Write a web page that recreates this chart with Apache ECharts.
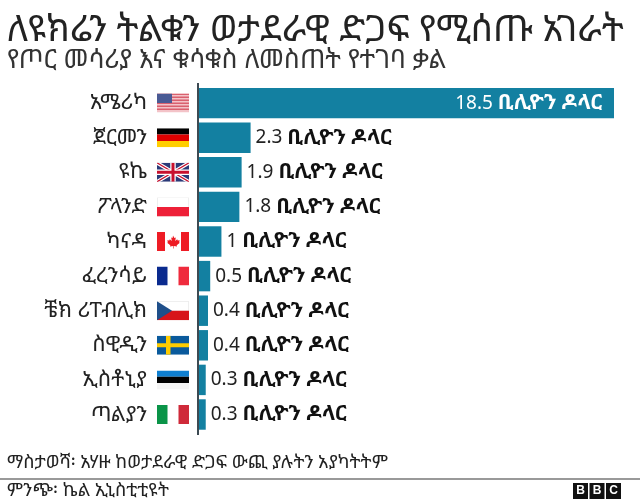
<!DOCTYPE html>
<html><head><meta charset="utf-8">
<style>html,body{margin:0;padding:0;background:#fff}#c{width:640px;height:501px}</style>
<script src="https://cdn.jsdelivr.net/npm/echarts@6/dist/echarts.min.js"></script>
</head><body><div id="c"></div>
<script>
const FONT = '"Noto Sans Ethiopic","Noto Sans","DejaVu Sans","Liberation Sans",sans-serif';
const titleText = 'ለዩክሬን ትልቁን ወታደራዊ ድጋፍ የሚሰጡ አገራት';
const subtitleText = 'የጦር መሳሪያ እና ቁሳቁስ ለመስጠት የተገባ ቃል';
const noteText = 'ማስታወሻ፡ አሃዙ ከወታደራዊ ድጋፍ ውጪ ያሉትን አያካትትም';
const sourceText = 'ምንጭ፡ ኬል ኢኒስቲቲዩት';
const unitText = 'ቢሊዮን ዶላር';
const categories = ['አሜሪካ','ጀርመን','ዩኬ','ፖላንድ','ካናዳ','ፈረንሳይ','ቼክ ሪፐብሊክ','ስዊዲን','ኢስቶኒያ','ጣልያን'];
const flagKeys = ['us','de','uk','pl','ca','fr','cz','se','ee','it'];
const values = [18.5,2.3,1.9,1.8,1,0.5,0.4,0.4,0.3,0.3];

function svg(inner){return 'data:image/svg+xml;charset=utf-8,'+encodeURIComponent('<svg xmlns="http://www.w3.org/2000/svg" width="64" height="38" viewBox="0 0 32 19">'+inner+'</svg>');}
const flags = {
 us: svg('<rect width="32" height="19" fill="#f3c3c8"/>'+[0,3,6,9,12,15].map(y=>'<rect y="'+y+'" width="32" height="1.5" fill="#d9606e"/>').join('')+'<rect width="15" height="9.5" fill="#4a5a94"/>'),
 de: svg('<rect width="32" height="6.3" fill="#000"/><rect y="6.3" width="32" height="6.4" fill="#dd0000"/><rect y="12.7" width="32" height="6.3" fill="#ffce00"/>'),
 uk: svg('<rect width="32" height="19" fill="#2b3a78"/><path d="M0 0L32 19M32 0L0 19" stroke="#fff" stroke-width="3.6"/><path d="M0 0L32 19M32 0L0 19" stroke="#c8102e" stroke-width="1.2"/><path d="M16 0V19M0 9.5H32" stroke="#fff" stroke-width="5.5"/><path d="M16 0V19M0 9.5H32" stroke="#c8102e" stroke-width="3"/>'),
 pl: svg('<rect width="32" height="19" fill="#ddd"/><rect x=".5" y=".5" width="31" height="9" fill="#fff"/><rect y="9.5" width="32" height="9.5" fill="#ee2038"/>'),
 ca: svg('<rect width="32" height="19" fill="#fff"/><rect width="8" height="19" fill="#ee1c25"/><rect x="24" width="8" height="19" fill="#ee1c25"/><path d="M16 3.5l1.4 2.6 1.4-.6-.6 3.6 2-1.8.5 1.2 2-.3-.6 2.2.8.4-3.2 2.5.3 1.2-3.2-.4v2.4h-.6v-2.4l-3.2.4.3-1.2-3.2-2.5.8-.4-.6-2.2 2 .3.5-1.2 2 1.8-.6-3.6 1.4.6z" fill="#ee1c25"/>'),
 fr: svg('<rect width="32" height="19" fill="#fff"/><rect width="10.5" height="19" fill="#0a2a8e"/><rect x="21.5" width="10.5" height="19" fill="#ef2b3d"/>'),
 cz: svg('<rect width="32" height="19" fill="#ddd"/><rect x=".5" y=".5" width="31" height="9" fill="#fff"/><rect y="9.5" width="32" height="9.5" fill="#d7141a"/><path d="M0 0L15 9.5L0 19z" fill="#1f4f8a"/>'),
 se: svg('<rect width="32" height="19" fill="#0a5a9c"/><rect x="9" width="4.5" height="19" fill="#fecc00"/><rect y="7.5" width="32" height="4" fill="#fecc00"/>'),
 ee: svg('<rect width="32" height="6.3" fill="#0f7fd0"/><rect y="6.3" width="32" height="6.4" fill="#000"/><rect y="12.7" width="32" height="6.3" fill="#f4f4f4"/>'),
 it: svg('<rect width="32" height="19" fill="#fff"/><rect width="10.5" height="19" fill="#0a9448"/><rect x="21.5" width="10.5" height="19" fill="#cf2a3a"/>')
};
const flagRich = {};
flagKeys.forEach(k=>{flagRich[k]={width:32,height:19,backgroundColor:{image:flags[k]}};});

const numStyle = c=>({fontFamily:FONT,fontSize:19,color:c});
const unitStyle = c=>({fontFamily:FONT,fontSize:21,fontWeight:'bold',color:c});
const labelFmt = p=>'{n|'+p.value+' }{u|'+unitText+'}';

const chart = echarts.init(document.getElementById('c'),null,{renderer:'canvas'});
chart.setOption({
 animation:false,
 backgroundColor:'#fff',
 title:[
  {text:titleText,left:7,top:12,padding:0,textStyle:{fontFamily:FONT,fontSize:36.6,fontWeight:'normal',color:'#222'}},
  {text:subtitleText,left:7,top:48,padding:0,textStyle:{fontFamily:FONT,fontSize:26,fontWeight:'normal',color:'#333'}},
  {text:noteText,left:7,top:454,padding:0,textStyle:{fontFamily:FONT,fontSize:18.3,fontWeight:'normal',color:'#222'}},
  {text:sourceText,left:7,top:482,padding:0,textStyle:{fontFamily:FONT,fontSize:18.3,fontWeight:'normal',color:'#222'}}
 ],
 grid:{left:199,right:26,top:85.8,height:346,containLabel:false},
 xAxis:{type:'value',min:0,max:18.5,show:false},
 yAxis:{type:'category',inverse:true,data:categories,
  axisTick:{show:false},
  axisLine:{show:false},
  axisLabel:{margin:10,interval:0,align:'right',
   formatter:(v,i)=>'{name|'+v+'}{gap|}{'+flagKeys[i]+'|}',
   rich:Object.assign({name:{fontFamily:FONT,fontSize:21.7,color:'#222',align:'right'},gap:{width:10}},flagRich)}
 },
 series:[{type:'bar',barCategoryGap:'12%',itemStyle:{color:'#1380a1'},
  label:{show:true,position:'right',distance:5,formatter:labelFmt,
   rich:{n:numStyle('#222'),u:unitStyle('#111')}},
  data:values.map((v,i)=>i===0?{value:v,label:{position:'insideRight',distance:12,formatter:labelFmt,rich:{n:numStyle('#fff'),u:unitStyle('#fff')}}}:v)
 }],
 graphic:[
  {type:'rect',left:197,top:83,shape:{width:2,height:352},style:{fill:'#3d4a52'}},
  {type:'rect',left:0,top:478,shape:{width:640,height:2},style:{fill:'#999'}},
  {type:'group',left:573,top:483,children:['B','B','C'].map((t,i)=>({type:'group',x:i*16.5,children:[
    {type:'rect',shape:{width:15,height:16},style:{fill:'#111'}},
    {type:'text',style:{text:t,x:7.5,y:8,align:'center',verticalAlign:'middle',font:'bold 12px "Liberation Sans"',fill:'#fff'}}]}))}
 ]
});
</script></body></html>
